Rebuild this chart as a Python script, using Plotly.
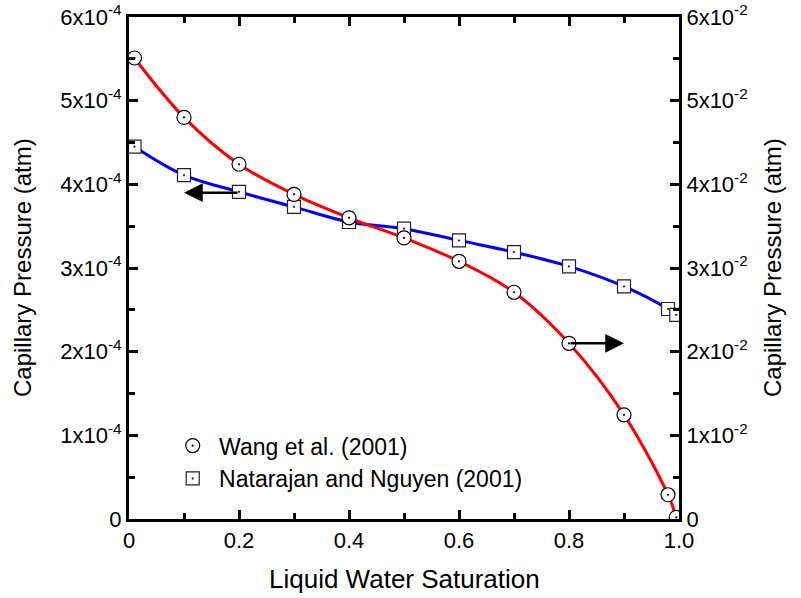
import plotly.graph_objects as go

# Wang et al. (2001) -- right axis (atm)
wang_s = [0.01, 0.1, 0.2, 0.3, 0.4, 0.5, 0.6, 0.7, 0.8, 0.9, 0.98, 0.995]
wang_pc = [5.51e-2, 4.80e-2, 4.24e-2, 3.88e-2, 3.60e-2, 3.36e-2, 3.08e-2,
           2.71e-2, 2.10e-2, 1.245e-2, 0.29e-2, 0.02e-2]

# Natarajan and Nguyen (2001) -- left axis (atm)
nat_s = [0.01, 0.1, 0.2, 0.3, 0.4, 0.5, 0.6, 0.7, 0.8, 0.9, 0.98, 0.995]
nat_pc = [4.45e-4, 4.11e-4, 3.91e-4, 3.73e-4, 3.55e-4, 3.47e-4, 3.33e-4,
          3.19e-4, 3.02e-4, 2.78e-4, 2.51e-4, 2.44e-4]

left_vals = [0, 1e-4, 2e-4, 3e-4, 4e-4, 5e-4, 6e-4]
left_text = ["0"] + [f"{i}x10<sup>-4</sup>" for i in range(1, 7)]
right_vals = [0, 1e-2, 2e-2, 3e-2, 4e-2, 5e-2, 6e-2]
right_text = ["0"] + [f"{i}x10<sup>-2</sup>" for i in range(1, 7)]
x_vals = [0, 0.2, 0.4, 0.6, 0.8, 1.0]
x_text = ["0", "0.2", "0.4", "0.6", "0.8", "1.0"]

FONT = "Liberation Sans, Arial, sans-serif"

fig = go.Figure()

fig.add_trace(go.Scatter(x=nat_s, y=nat_pc, mode="lines", line=dict(color="#0000ff", width=3, shape="spline"),
                         showlegend=False, yaxis="y"))
fig.add_trace(go.Scatter(x=wang_s, y=wang_pc, mode="lines", line=dict(color="#ff0000", width=3, shape="spline"),
                         showlegend=False, yaxis="y2"))
fig.add_trace(go.Scatter(x=wang_s, y=wang_pc, mode="markers", name="\u00a0Wang et al. (2001)", yaxis="y2",
                         marker=dict(symbol="circle-dot", size=14, color="white", line=dict(color="black", width=1.2))))
fig.add_trace(go.Scatter(x=nat_s, y=nat_pc, mode="markers", name="\u00a0Natarajan and Nguyen (2001)", yaxis="y",
                         marker=dict(symbol="square-dot", size=13, color="white", line=dict(color="#222", width=1.2))))

axis_common = dict(showline=True, linecolor="black", linewidth=3, ticks="inside", ticklen=9, tickwidth=3,
                   tickcolor="black", showgrid=False, zeroline=False, automargin=False,
                   ticklabeloverflow="allow",
                   tickfont=dict(family=FONT, size=22, color="black"))
minor_common = dict(ticks="inside", ticklen=6, tickwidth=3, tickcolor="black")

fig.update_layout(
    width=801, height=598,
    margin=dict(l=129, r=122, t=17, b=79),
    paper_bgcolor="white", plot_bgcolor="white",
    font=dict(family=FONT, size=22, color="black"),
    xaxis=dict(range=[0, 1.0], tickvals=x_vals, ticktext=x_text, mirror="ticks",
               minor=dict(dtick=0.1, tick0=0, **minor_common), **axis_common),
    yaxis=dict(range=[0, 6e-4], tickvals=left_vals, ticktext=left_text,
               minor=dict(dtick=0.5e-4, tick0=0, **minor_common), **axis_common),
    yaxis2=dict(range=[0, 6e-2], tickvals=right_vals, ticktext=right_text, overlaying="y", side="right",
                minor=dict(dtick=0.5e-2, tick0=0, **minor_common), **axis_common),
    legend=dict(x=0.0795, y=0.189, xanchor="left", yanchor="top", bgcolor="rgba(0,0,0,0)",
                font=dict(family=FONT, size=23), itemwidth=30, tracegroupgap=0),
    annotations=[
        dict(x=0.1, y=3.9e-4, xref="x", yref="y", ax=0.2, ay=3.9e-4, axref="x", ayref="y",
             showarrow=True, arrowhead=2, arrowsize=1.5, arrowwidth=2.5, arrowcolor="black", text=""),
        dict(x=0.9, y=2.1e-2, xref="x", yref="y2", ax=0.8, ay=2.1e-2, axref="x", ayref="y2",
             showarrow=True, arrowhead=2, arrowsize=1.5, arrowwidth=2.5, arrowcolor="black", text=""),
        dict(text="Capillary Pressure (atm)", textangle=-90, x=0, y=0.5, xref="paper", yref="paper",
             xanchor="center", yanchor="middle", xshift=-107, showarrow=False, font=dict(size=24)),
        dict(text="Capillary Pressure (atm)", textangle=-90, x=1, y=0.5, xref="paper", yref="paper",
             xanchor="center", yanchor="middle", xshift=93, showarrow=False, font=dict(size=24)),
        dict(text="Liquid Water Saturation", x=0.5, y=0, xref="paper", yref="paper",
             xanchor="center", yanchor="middle", yshift=-60, showarrow=False, font=dict(size=26)),
    ],
)

# drop the default body margin so the figure fills the window exactly
fig.write_html("out.html", config={"displayModeBar": False},
               post_script="document.body.style.margin = '0';")
